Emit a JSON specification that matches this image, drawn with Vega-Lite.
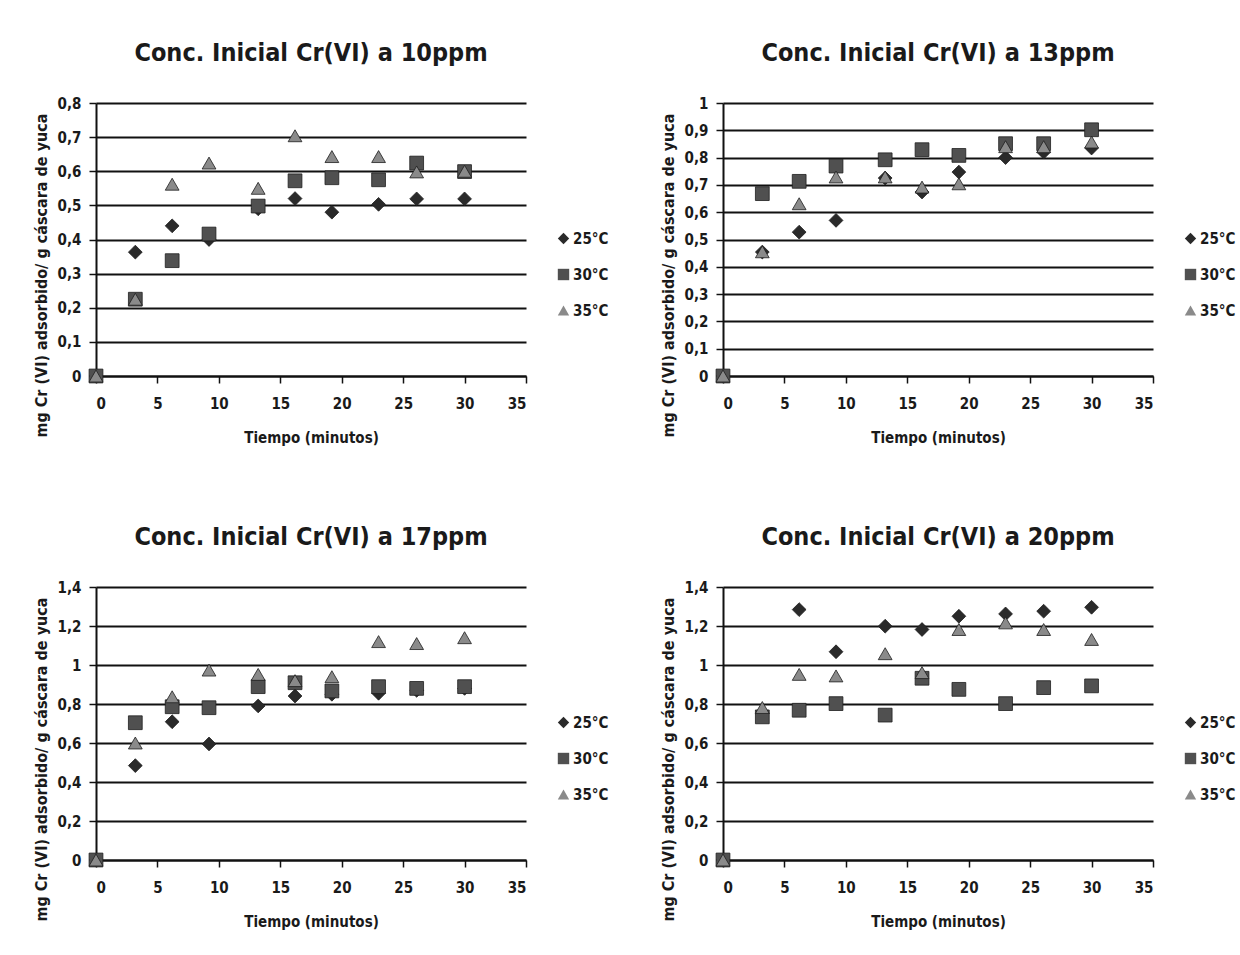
{
  "$schema": "https://vega.github.io/schema/vega-lite/v6.json",
  "background": "white",
  "padding": {"left": 33, "top": 41, "right": 0, "bottom": 5},
  "config": {
    "font": "DejaVu Sans Condensed, Roboto Condensed, Roboto, sans-serif",
    "view": {"stroke": null},
    "title": {"font": "DejaVu Sans Condensed, Roboto Condensed, Roboto, sans-serif", "fontSize": 25, "fontWeight": "bold", "color": "#1a1a1a", "offset": 30, "anchor": "middle"},
    "axis": {"labelFont": "DejaVu Sans Condensed, Roboto Condensed, Roboto, sans-serif", "labelFontWeight": "bold", "labelFontSize": 15, "labelColor": "#1a1a1a",
             "titleFont": "DejaVu Sans Condensed, Roboto Condensed, Roboto, sans-serif", "titleFontWeight": "bold", "titleColor": "#1a1a1a",
             "domainColor": "#111", "domainWidth": 2, "tickColor": "#111", "tickWidth": 1.5, "tickSize": 7,
             "gridColor": "#111", "gridWidth": 2, "gridOpacity": 1},
    "legend": {"labelFont": "DejaVu Sans Condensed, Roboto Condensed, Roboto, sans-serif", "labelFontWeight": "bold", "labelFontSize": 15, "labelColor": "#1a1a1a"}
  },
  "data": {"values": [
    {"panel": "10", "temp": "25°C", "t": 0, "v": 0},
    {"panel": "10", "temp": "25°C", "t": 3.2, "v": 0.363},
    {"panel": "10", "temp": "25°C", "t": 6.2, "v": 0.44},
    {"panel": "10", "temp": "25°C", "t": 9.2, "v": 0.40},
    {"panel": "10", "temp": "25°C", "t": 13.2, "v": 0.49},
    {"panel": "10", "temp": "25°C", "t": 16.2, "v": 0.52},
    {"panel": "10", "temp": "25°C", "t": 19.2, "v": 0.48},
    {"panel": "10", "temp": "25°C", "t": 23, "v": 0.503},
    {"panel": "10", "temp": "25°C", "t": 26.1, "v": 0.519},
    {"panel": "10", "temp": "25°C", "t": 30, "v": 0.519},
    {"panel": "10", "temp": "30°C", "t": 0, "v": 0},
    {"panel": "10", "temp": "30°C", "t": 3.2, "v": 0.225},
    {"panel": "10", "temp": "30°C", "t": 6.2, "v": 0.338},
    {"panel": "10", "temp": "30°C", "t": 9.2, "v": 0.416},
    {"panel": "10", "temp": "30°C", "t": 13.2, "v": 0.498},
    {"panel": "10", "temp": "30°C", "t": 16.2, "v": 0.572},
    {"panel": "10", "temp": "30°C", "t": 19.2, "v": 0.581},
    {"panel": "10", "temp": "30°C", "t": 23, "v": 0.575},
    {"panel": "10", "temp": "30°C", "t": 26.1, "v": 0.624},
    {"panel": "10", "temp": "30°C", "t": 30, "v": 0.599},
    {"panel": "10", "temp": "35°C", "t": 0, "v": 0},
    {"panel": "10", "temp": "35°C", "t": 3.2, "v": 0.225},
    {"panel": "10", "temp": "35°C", "t": 6.2, "v": 0.562},
    {"panel": "10", "temp": "35°C", "t": 9.2, "v": 0.624},
    {"panel": "10", "temp": "35°C", "t": 13.2, "v": 0.55},
    {"panel": "10", "temp": "35°C", "t": 16.2, "v": 0.704},
    {"panel": "10", "temp": "35°C", "t": 19.2, "v": 0.643},
    {"panel": "10", "temp": "35°C", "t": 23, "v": 0.643},
    {"panel": "10", "temp": "35°C", "t": 26.1, "v": 0.598},
    {"panel": "10", "temp": "35°C", "t": 30, "v": 0.60},

    {"panel": "13", "temp": "25°C", "t": 0, "v": 0},
    {"panel": "13", "temp": "25°C", "t": 3.2, "v": 0.454},
    {"panel": "13", "temp": "25°C", "t": 6.2, "v": 0.527},
    {"panel": "13", "temp": "25°C", "t": 9.2, "v": 0.57},
    {"panel": "13", "temp": "25°C", "t": 13.2, "v": 0.725},
    {"panel": "13", "temp": "25°C", "t": 16.2, "v": 0.674},
    {"panel": "13", "temp": "25°C", "t": 19.2, "v": 0.747},
    {"panel": "13", "temp": "25°C", "t": 23, "v": 0.80},
    {"panel": "13", "temp": "25°C", "t": 26.1, "v": 0.82},
    {"panel": "13", "temp": "25°C", "t": 30, "v": 0.835},
    {"panel": "13", "temp": "30°C", "t": 0, "v": 0},
    {"panel": "13", "temp": "30°C", "t": 3.2, "v": 0.668},
    {"panel": "13", "temp": "30°C", "t": 6.2, "v": 0.713},
    {"panel": "13", "temp": "30°C", "t": 9.2, "v": 0.769},
    {"panel": "13", "temp": "30°C", "t": 13.2, "v": 0.792},
    {"panel": "13", "temp": "30°C", "t": 16.2, "v": 0.829},
    {"panel": "13", "temp": "30°C", "t": 19.2, "v": 0.808},
    {"panel": "13", "temp": "30°C", "t": 23, "v": 0.851},
    {"panel": "13", "temp": "30°C", "t": 26.1, "v": 0.851},
    {"panel": "13", "temp": "30°C", "t": 30, "v": 0.902},
    {"panel": "13", "temp": "35°C", "t": 0, "v": 0},
    {"panel": "13", "temp": "35°C", "t": 3.2, "v": 0.455},
    {"panel": "13", "temp": "35°C", "t": 6.2, "v": 0.631},
    {"panel": "13", "temp": "35°C", "t": 9.2, "v": 0.729},
    {"panel": "13", "temp": "35°C", "t": 13.2, "v": 0.729},
    {"panel": "13", "temp": "35°C", "t": 16.2, "v": 0.692},
    {"panel": "13", "temp": "35°C", "t": 19.2, "v": 0.704},
    {"panel": "13", "temp": "35°C", "t": 23, "v": 0.84},
    {"panel": "13", "temp": "35°C", "t": 26.1, "v": 0.84},
    {"panel": "13", "temp": "35°C", "t": 30, "v": 0.857},

    {"panel": "17", "temp": "25°C", "t": 0, "v": 0},
    {"panel": "17", "temp": "25°C", "t": 3.2, "v": 0.484},
    {"panel": "17", "temp": "25°C", "t": 6.2, "v": 0.709},
    {"panel": "17", "temp": "25°C", "t": 9.2, "v": 0.595},
    {"panel": "17", "temp": "25°C", "t": 13.2, "v": 0.79},
    {"panel": "17", "temp": "25°C", "t": 16.2, "v": 0.841},
    {"panel": "17", "temp": "25°C", "t": 19.2, "v": 0.85},
    {"panel": "17", "temp": "25°C", "t": 23, "v": 0.855},
    {"panel": "17", "temp": "25°C", "t": 26.1, "v": 0.87},
    {"panel": "17", "temp": "25°C", "t": 30, "v": 0.88},
    {"panel": "17", "temp": "30°C", "t": 0, "v": 0},
    {"panel": "17", "temp": "30°C", "t": 3.2, "v": 0.704},
    {"panel": "17", "temp": "30°C", "t": 6.2, "v": 0.786},
    {"panel": "17", "temp": "30°C", "t": 9.2, "v": 0.781},
    {"panel": "17", "temp": "30°C", "t": 13.2, "v": 0.889},
    {"panel": "17", "temp": "30°C", "t": 16.2, "v": 0.909},
    {"panel": "17", "temp": "30°C", "t": 19.2, "v": 0.867},
    {"panel": "17", "temp": "30°C", "t": 23, "v": 0.889},
    {"panel": "17", "temp": "30°C", "t": 26.1, "v": 0.88},
    {"panel": "17", "temp": "30°C", "t": 30, "v": 0.889},
    {"panel": "17", "temp": "35°C", "t": 0, "v": 0},
    {"panel": "17", "temp": "35°C", "t": 3.2, "v": 0.60},
    {"panel": "17", "temp": "35°C", "t": 6.2, "v": 0.837},
    {"panel": "17", "temp": "35°C", "t": 9.2, "v": 0.974},
    {"panel": "17", "temp": "35°C", "t": 13.2, "v": 0.952},
    {"panel": "17", "temp": "35°C", "t": 16.2, "v": 0.92},
    {"panel": "17", "temp": "35°C", "t": 19.2, "v": 0.94},
    {"panel": "17", "temp": "35°C", "t": 23, "v": 1.12},
    {"panel": "17", "temp": "35°C", "t": 26.1, "v": 1.11},
    {"panel": "17", "temp": "35°C", "t": 30, "v": 1.14},

    {"panel": "20", "temp": "25°C", "t": 0, "v": 0},
    {"panel": "20", "temp": "25°C", "t": 3.2, "v": 0.75},
    {"panel": "20", "temp": "25°C", "t": 6.2, "v": 1.284},
    {"panel": "20", "temp": "25°C", "t": 9.2, "v": 1.068},
    {"panel": "20", "temp": "25°C", "t": 13.2, "v": 1.199},
    {"panel": "20", "temp": "25°C", "t": 16.2, "v": 1.182},
    {"panel": "20", "temp": "25°C", "t": 19.2, "v": 1.25},
    {"panel": "20", "temp": "25°C", "t": 23, "v": 1.262},
    {"panel": "20", "temp": "25°C", "t": 26.1, "v": 1.276},
    {"panel": "20", "temp": "25°C", "t": 30, "v": 1.296},
    {"panel": "20", "temp": "30°C", "t": 0, "v": 0},
    {"panel": "20", "temp": "30°C", "t": 3.2, "v": 0.734},
    {"panel": "20", "temp": "30°C", "t": 6.2, "v": 0.768},
    {"panel": "20", "temp": "30°C", "t": 9.2, "v": 0.802},
    {"panel": "20", "temp": "30°C", "t": 13.2, "v": 0.743},
    {"panel": "20", "temp": "30°C", "t": 16.2, "v": 0.932},
    {"panel": "20", "temp": "30°C", "t": 19.2, "v": 0.875},
    {"panel": "20", "temp": "30°C", "t": 23, "v": 0.802},
    {"panel": "20", "temp": "30°C", "t": 26.1, "v": 0.884},
    {"panel": "20", "temp": "30°C", "t": 30, "v": 0.893},
    {"panel": "20", "temp": "35°C", "t": 0, "v": 0},
    {"panel": "20", "temp": "35°C", "t": 3.2, "v": 0.782},
    {"panel": "20", "temp": "35°C", "t": 6.2, "v": 0.952},
    {"panel": "20", "temp": "35°C", "t": 9.2, "v": 0.944},
    {"panel": "20", "temp": "35°C", "t": 13.2, "v": 1.058},
    {"panel": "20", "temp": "35°C", "t": 16.2, "v": 0.961},
    {"panel": "20", "temp": "35°C", "t": 19.2, "v": 1.182},
    {"panel": "20", "temp": "35°C", "t": 23, "v": 1.216},
    {"panel": "20", "temp": "35°C", "t": 26.1, "v": 1.182},
    {"panel": "20", "temp": "35°C", "t": 30, "v": 1.131}
  ]},
  "columns": 2,
  "spacing": {"column": 51, "row": 80},
  "resolve": {"scale": {"color": "independent", "shape": "independent"}},
  "concat": [
    {
      "title": "Conc. Inicial Cr(VI) a 10ppm",
      "width": 430, "height": 273,
      "transform": [{"filter": "datum.panel == '10'"}],
      "mark": {"type": "point", "filled": true, "size": 190, "opacity": 1, "stroke": "#1e1e1e", "strokeWidth": 0.8},
      "encoding": {
        "x": {"field": "t", "type": "quantitative", "scale": {"domain": [0, 35], "nice": false},
              "axis": {"values": [0, 5, 10, 15, 20, 25, 30, 35], "grid": false, "title": "Tiempo (minutos)", "titleFontSize": 15, "titlePadding": 19, "labelPadding": 13}},
        "y": {"field": "v", "type": "quantitative", "scale": {"domain": [0, 0.8], "nice": false},
              "axis": {"values": [0, 0.1, 0.2, 0.3, 0.4, 0.5, 0.6, 0.7, 0.8], "grid": true, "labelExpr": "replace(format(datum.value, '.1~f'), '.', ',')", "title": "mg Cr (VI) adsorbido/ g cáscara de yuca", "titleFontSize": 16, "titlePadding": 8, "titleY": 172, "labelPadding": 8}},
        "shape": {"field": "temp", "type": "nominal", "scale": {"domain": ["25°C", "30°C", "35°C"], "range": ["diamond", "square", "triangle-up"]},
                  "legend": {"title": null, "orient": "none", "legendX": 460, "legendY": 128, "symbolSize": 130, "rowPadding": 20, "labelOffset": 2, "symbolStrokeWidth": 0}},
        "color": {"field": "temp", "type": "nominal", "scale": {"domain": ["25°C", "30°C", "35°C"], "range": ["#2a2a2a", "#505050", "#8a8a8a"]},
                  "legend": {"title": null, "orient": "none", "legendX": 460, "legendY": 128, "symbolSize": 130, "rowPadding": 20, "labelOffset": 2, "symbolStrokeWidth": 0}}
      }
    },
    {
      "title": "Conc. Inicial Cr(VI) a 13ppm",
      "width": 430, "height": 273,
      "transform": [{"filter": "datum.panel == '13'"}],
      "mark": {"type": "point", "filled": true, "size": 190, "opacity": 1, "stroke": "#1e1e1e", "strokeWidth": 0.8},
      "encoding": {
        "x": {"field": "t", "type": "quantitative", "scale": {"domain": [0, 35], "nice": false},
              "axis": {"values": [0, 5, 10, 15, 20, 25, 30, 35], "grid": false, "title": "Tiempo (minutos)", "titleFontSize": 15, "titlePadding": 19, "labelPadding": 13}},
        "y": {"field": "v", "type": "quantitative", "scale": {"domain": [0, 1], "nice": false},
              "axis": {"values": [0, 0.1, 0.2, 0.3, 0.4, 0.5, 0.6, 0.7, 0.8, 0.9, 1], "grid": true, "labelExpr": "replace(format(datum.value, '.1~f'), '.', ',')", "title": "mg Cr (VI) adsorbido/ g cáscara de yuca", "titleFontSize": 16, "titlePadding": 8, "titleY": 172, "labelPadding": 8}},
        "shape": {"field": "temp", "type": "nominal", "scale": {"domain": ["25°C", "30°C", "35°C"], "range": ["diamond", "square", "triangle-up"]},
                  "legend": {"title": null, "orient": "none", "legendX": 460, "legendY": 128, "symbolSize": 130, "rowPadding": 20, "labelOffset": 2, "symbolStrokeWidth": 0}},
        "color": {"field": "temp", "type": "nominal", "scale": {"domain": ["25°C", "30°C", "35°C"], "range": ["#2a2a2a", "#505050", "#8a8a8a"]},
                  "legend": {"title": null, "orient": "none", "legendX": 460, "legendY": 128, "symbolSize": 130, "rowPadding": 20, "labelOffset": 2, "symbolStrokeWidth": 0}}
      }
    },
    {
      "title": "Conc. Inicial Cr(VI) a 17ppm",
      "width": 430, "height": 273,
      "transform": [{"filter": "datum.panel == '17'"}],
      "mark": {"type": "point", "filled": true, "size": 190, "opacity": 1, "stroke": "#1e1e1e", "strokeWidth": 0.8},
      "encoding": {
        "x": {"field": "t", "type": "quantitative", "scale": {"domain": [0, 35], "nice": false},
              "axis": {"values": [0, 5, 10, 15, 20, 25, 30, 35], "grid": false, "title": "Tiempo (minutos)", "titleFontSize": 15, "titlePadding": 19, "labelPadding": 13}},
        "y": {"field": "v", "type": "quantitative", "scale": {"domain": [0, 1.4], "nice": false},
              "axis": {"values": [0, 0.2, 0.4, 0.6, 0.8, 1, 1.2, 1.4], "grid": true, "labelExpr": "replace(format(datum.value, '.1~f'), '.', ',')", "title": "mg Cr (VI) adsorbido/ g cáscara de yuca", "titleFontSize": 16, "titlePadding": 8, "titleY": 172, "labelPadding": 8}},
        "shape": {"field": "temp", "type": "nominal", "scale": {"domain": ["25°C", "30°C", "35°C"], "range": ["diamond", "square", "triangle-up"]},
                  "legend": {"title": null, "orient": "none", "legendX": 460, "legendY": 128, "symbolSize": 130, "rowPadding": 20, "labelOffset": 2, "symbolStrokeWidth": 0}},
        "color": {"field": "temp", "type": "nominal", "scale": {"domain": ["25°C", "30°C", "35°C"], "range": ["#2a2a2a", "#505050", "#8a8a8a"]},
                  "legend": {"title": null, "orient": "none", "legendX": 460, "legendY": 128, "symbolSize": 130, "rowPadding": 20, "labelOffset": 2, "symbolStrokeWidth": 0}}
      }
    },
    {
      "title": "Conc. Inicial Cr(VI) a 20ppm",
      "width": 430, "height": 273,
      "transform": [{"filter": "datum.panel == '20'"}],
      "mark": {"type": "point", "filled": true, "size": 190, "opacity": 1, "stroke": "#1e1e1e", "strokeWidth": 0.8},
      "encoding": {
        "x": {"field": "t", "type": "quantitative", "scale": {"domain": [0, 35], "nice": false},
              "axis": {"values": [0, 5, 10, 15, 20, 25, 30, 35], "grid": false, "title": "Tiempo (minutos)", "titleFontSize": 15, "titlePadding": 19, "labelPadding": 13}},
        "y": {"field": "v", "type": "quantitative", "scale": {"domain": [0, 1.4], "nice": false},
              "axis": {"values": [0, 0.2, 0.4, 0.6, 0.8, 1, 1.2, 1.4], "grid": true, "labelExpr": "replace(format(datum.value, '.1~f'), '.', ',')", "title": "mg Cr (VI) adsorbido/ g cáscara de yuca", "titleFontSize": 16, "titlePadding": 8, "titleY": 172, "labelPadding": 8}},
        "shape": {"field": "temp", "type": "nominal", "scale": {"domain": ["25°C", "30°C", "35°C"], "range": ["diamond", "square", "triangle-up"]},
                  "legend": {"title": null, "orient": "none", "legendX": 460, "legendY": 128, "symbolSize": 130, "rowPadding": 20, "labelOffset": 2, "symbolStrokeWidth": 0}},
        "color": {"field": "temp", "type": "nominal", "scale": {"domain": ["25°C", "30°C", "35°C"], "range": ["#2a2a2a", "#505050", "#8a8a8a"]},
                  "legend": {"title": null, "orient": "none", "legendX": 460, "legendY": 128, "symbolSize": 130, "rowPadding": 20, "labelOffset": 2, "symbolStrokeWidth": 0}}
      }
    }
  ]
}
